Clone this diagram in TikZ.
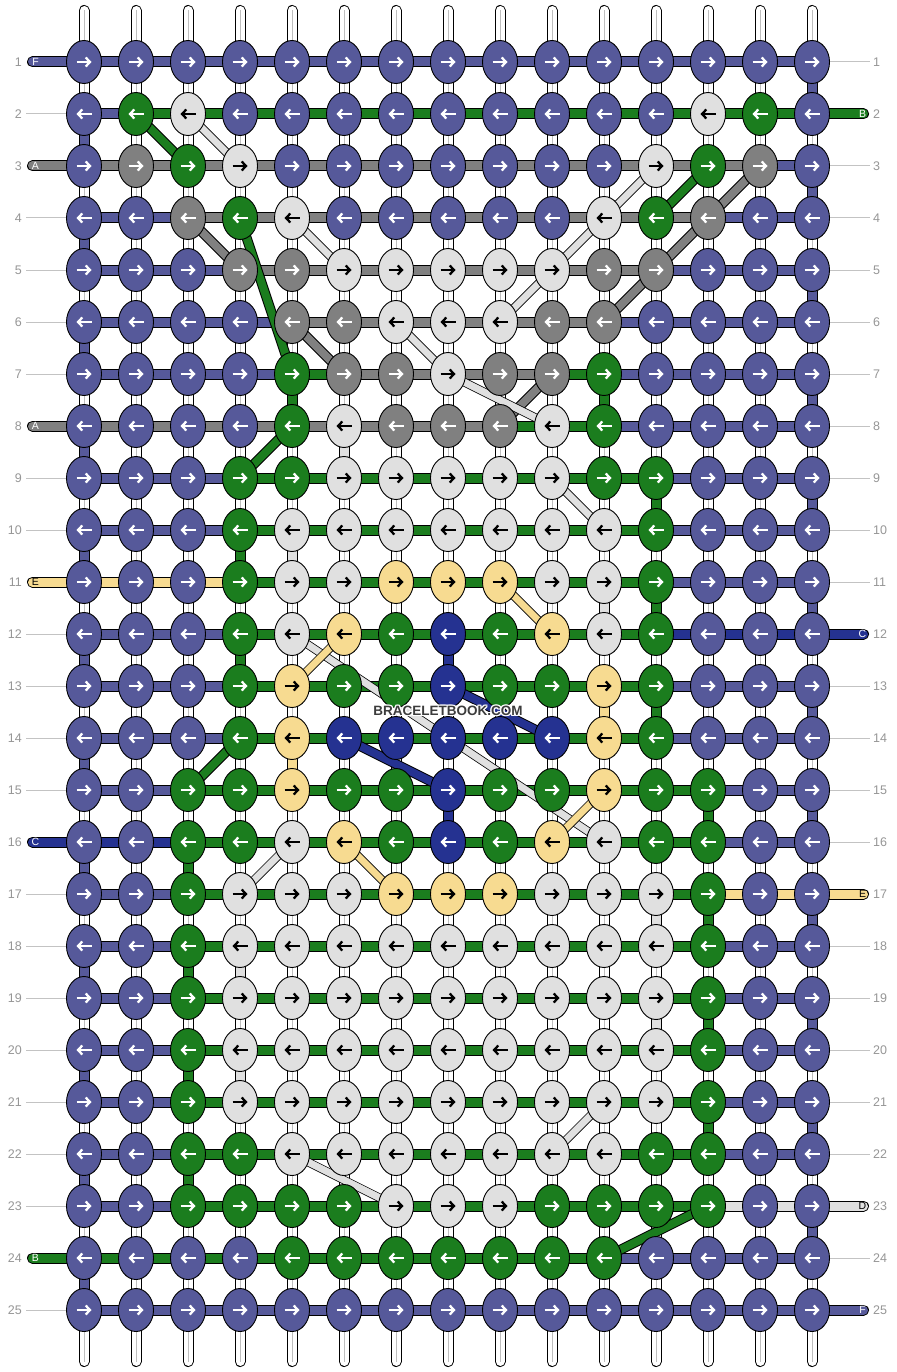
\documentclass[tikz,border=0pt]{standalone}
\usepackage{fontspec}
\setmainfont{Liberation Sans}
\usetikzlibrary{arrows.meta,shapes.geometric}
\definecolor{cP}{RGB}{86,89,154}
\definecolor{cG}{RGB}{27,125,30}
\definecolor{cL}{RGB}{224,224,224}
\definecolor{cK}{RGB}{128,128,128}
\definecolor{cN}{RGB}{37,50,145}
\definecolor{cY}{RGB}{247,219,145}
\colorlet{aP}{white}
\colorlet{aG}{white}
\colorlet{aK}{white}
\colorlet{aN}{white}
\colorlet{aL}{black}
\colorlet{aY}{black}
\definecolor{numgray}{RGB}{150,150,150}
\definecolor{guidegray}{RGB}{195,195,195}
\definecolor{strgray}{RGB}{190,190,190}
\definecolor{wmgray}{RGB}{60,60,60}
\begin{document}
\begin{tikzpicture}[x=1pt,y=-1pt,
  knot/.style={ellipse, draw=black, line width=0.9pt, minimum width=35pt, minimum height=43pt, inner sep=0pt},
  seg/.style={line width=11pt, draw=black, postaction={draw=#1, line width=9pt}},
  edgebar/.style={line width=11pt, draw=black, line cap=round, postaction={draw=#1, line width=9pt, line cap=round}},
  dg/.style={line width=10pt, draw=black, postaction={draw=#1, line width=8pt}},
  ldg/.style={line width=8.5pt, draw=black, postaction={draw=#1, line width=7pt}},
  num/.style={text=numgray, font=\fontsize{12.5}{14}\selectfont, inner sep=0pt},
  lett/.style={font=\fontsize{10.5}{12}\selectfont, inner sep=0pt},
  guide/.style={draw=guidegray, line width=1pt},
  arr/.style={line width=2.3pt, -{Straight Barb[length=4.2pt,width=9pt]}},
  wmark/.style={font=\bfseries\fontsize{13.5}{15}\selectfont, inner sep=0pt},
]
\fill[white] (0,0) rectangle (896,1372);
\useasboundingbox (0,0) rectangle (896,1372);
% knot positions
\foreach \r in {1,...,25}{
  \foreach \c in {1,...,15}{
    \coordinate (k-\r-\c) at ({32+52*\c},{10+52*\r});
  }
}
% vertical strings
\foreach \c in {1,...,15}{
  \coordinate (st-\c) at ({32+52*\c},10.5);
  \coordinate (sb-\c) at ({32+52*\c},1361.5);
  \draw[line width=11pt, black, line cap=round] (st-\c) -- (sb-\c);
  \draw[line width=9pt, white, line cap=round] (st-\c) -- (sb-\c);
  \draw[line width=0.8pt, strgray] (st-\c) -- (sb-\c);
}
% guide lines
\foreach \r in {2,4,5,6,7,9,10,12,13,14,15,17,18,19,20,21,22,23,25}{
  \coordinate (gl-\r) at (26,{10+52*\r});
  \draw[guide] (gl-\r) -- (k-\r-1);
}
\foreach \r in {1,3,4,5,6,7,8,9,10,11,13,14,15,16,18,19,20,21,22,24}{
  \coordinate (gr-\r) at (870,{10+52*\r});
  \draw[guide] (k-\r-15) -- (gr-\r);
}
% entering / leaving threads
\foreach \r/\col/\lbl in {1/P/F,3/K/A,8/K/A,11/Y/E,16/N/C,24/G/B}{
  \coordinate (in-\r) at (32.5,{10+52*\r});
  \draw[edgebar=c\col] (in-\r) -- (k-\r-1);
}
\foreach \r/\col/\lbl in {2/G/B,12/N/C,17/Y/E,23/L/D,25/P/F}{
  \coordinate (out-\r) at (863.5,{10+52*\r});
  \draw[edgebar=c\col] (k-\r-15) -- (out-\r);
}
% horizontal segments
\foreach \r/\segs in {
 1/{P,P,P,P,P,P,P,P,P,P,P,P,P,P},
 2/{P,G,G,G,G,G,G,G,G,G,G,G,G,G},
 3/{K,K,K,K,K,K,K,K,K,K,K,K,K,P},
 4/{P,P,K,K,K,K,K,K,K,K,K,K,P,P},
 5/{P,P,P,K,K,K,K,K,K,K,K,P,P,P},
 6/{P,P,P,P,K,K,K,K,K,K,P,P,P,P},
 7/{P,P,P,P,G,K,K,K,K,G,P,P,P,P},
 8/{K,K,K,K,K,K,K,K,G,G,P,P,P,P},
 9/{P,P,P,G,G,G,G,G,G,G,G,P,P,P},
 10/{P,P,P,G,G,G,G,G,G,G,G,P,P,P},
 11/{Y,Y,Y,G,G,G,G,G,G,G,G,P,P,P},
 12/{P,P,P,G,G,G,G,G,G,G,G,N,N,N},
 13/{P,P,P,G,G,G,G,G,G,G,G,P,P,P},
 14/{P,P,P,G,G,G,G,G,G,G,G,P,P,P},
 15/{P,P,G,G,G,G,G,G,G,G,G,G,P,P},
 16/{N,N,G,G,G,G,G,G,G,G,G,G,P,P},
 17/{P,P,G,G,G,G,G,G,G,G,G,G,Y,Y},
 18/{P,P,G,G,G,G,G,G,G,G,G,G,P,P},
 19/{P,P,G,G,G,G,G,G,G,G,G,G,P,P},
 20/{P,P,G,G,G,G,G,G,G,G,G,G,P,P},
 21/{P,P,G,G,G,G,G,G,G,G,G,G,P,P},
 22/{P,P,G,G,G,G,G,G,G,G,G,G,P,P},
 23/{P,P,G,G,G,G,G,G,G,G,G,G,L,L},
 24/{G,G,G,G,G,G,G,G,G,G,P,P,P,P},
 25/{P,P,P,P,P,P,P,P,P,P,P,P,P,P}}{
  \foreach \s [count=\c] in \segs {
    \pgfmathtruncatemacro\d{\c+1}
    \draw[seg=c\s] (k-\r-\c) -- (k-\r-\d);
  }
}
% weft turns at the edges
\foreach \r in {1,...,24}{
  \pgfmathtruncatemacro\rr{\r+1}
  \pgfmathtruncatemacro\ec{isodd(\r) ? 15 : 1}
  \draw[seg=cP] (k-\r-\ec) -- (k-\rr-\ec);
}
% other vertical connections
\foreach \r/\c/\col in {7/5/G,7/11/G,9/12/G,10/4/G,11/12/G,12/4/G,13/12/G,
  15/13/G,16/3/G,17/13/G,18/3/G,19/13/G,20/3/G,21/13/G,22/3/G,
  8/6/L,10/5/L,11/11/L,17/12/L,18/4/L,19/12/L,20/4/L,
  12/8/N,15/8/N,14/5/Y,13/11/Y}{
  \pgfmathtruncatemacro\rr{\r+1}
  \draw[seg=c\col] (k-\r-\c) -- (k-\rr-\c);
}
% diagonal moves
\foreach \ra/\ca/\rb/\cb/\col in {2/2/3/3/G,3/13/4/12/G,4/4/7/5/G,8/5/9/4/G,14/4/15/3/G,23/13/24/11/G,
  3/14/4/13/K,4/13/5/12/K,5/12/6/11/K,7/10/8/9/K,4/3/5/4/K,6/5/7/6/K,
  13/8/14/10/N,14/6/15/8/N}{
  \draw[dg=c\col] (k-\ra-\ca) -- (k-\rb-\cb);
}
\foreach \ra/\ca/\rb/\cb/\col in {2/3/3/4/L,3/12/4/11/L,4/11/5/10/L,4/5/5/6/L,5/10/6/9/L,6/7/7/8/L,
  7/8/8/10/L,9/10/10/11/L,12/5/14/8/L,14/8/16/11/L,16/5/17/4/L,21/11/22/10/L,22/5/23/7/L,
  11/9/12/10/Y,12/6/13/5/Y,15/11/16/10/Y,16/6/17/7/Y}{
  \draw[ldg=c\col] (k-\ra-\ca) -- (k-\rb-\cb);
}
% knots
\foreach \r/\cols in {
 1/{P,P,P,P,P,P,P,P,P,P,P,P,P,P,P},
 2/{P,G,L,P,P,P,P,P,P,P,P,P,L,G,P},
 3/{P,K,G,L,P,P,P,P,P,P,P,L,G,K,P},
 4/{P,P,K,G,L,P,P,P,P,P,L,G,K,P,P},
 5/{P,P,P,K,K,L,L,L,L,L,K,K,P,P,P},
 6/{P,P,P,P,K,K,L,L,L,K,K,P,P,P,P},
 7/{P,P,P,P,G,K,K,L,K,K,G,P,P,P,P},
 8/{P,P,P,P,G,L,K,K,K,L,G,P,P,P,P},
 9/{P,P,P,G,G,L,L,L,L,L,G,G,P,P,P},
 10/{P,P,P,G,L,L,L,L,L,L,L,G,P,P,P},
 11/{P,P,P,G,L,L,Y,Y,Y,L,L,G,P,P,P},
 12/{P,P,P,G,L,Y,G,N,G,Y,L,G,P,P,P},
 13/{P,P,P,G,Y,G,G,N,G,G,Y,G,P,P,P},
 14/{P,P,P,G,Y,N,N,N,N,N,Y,G,P,P,P},
 15/{P,P,G,G,Y,G,G,N,G,G,Y,G,G,P,P},
 16/{P,P,G,G,L,Y,G,N,G,Y,L,G,G,P,P},
 17/{P,P,G,L,L,L,Y,Y,Y,L,L,L,G,P,P},
 18/{P,P,G,L,L,L,L,L,L,L,L,L,G,P,P},
 19/{P,P,G,L,L,L,L,L,L,L,L,L,G,P,P},
 20/{P,P,G,L,L,L,L,L,L,L,L,L,G,P,P},
 21/{P,P,G,L,L,L,L,L,L,L,L,L,G,P,P},
 22/{P,P,G,G,L,L,L,L,L,L,L,G,G,P,P},
 23/{P,P,G,G,G,G,L,L,L,G,G,G,G,P,P},
 24/{P,P,P,P,G,G,G,G,G,G,G,P,P,P,P},
 25/{P,P,P,P,P,P,P,P,P,P,P,P,P,P,P}}{
  \pgfmathtruncatemacro\dir{isodd(\r) ? 1 : -1}
  \foreach \col [count=\c] in \cols {
    \node[knot, fill=c\col] (n-\r-\c) at (k-\r-\c) {};
    \draw[arr, draw=a\col, shift={(n-\r-\c.center)}, xscale=\dir] (-7.5,0) -- (7.5,0);
  }
}
% thread letters
\foreach \r/\col/\lbl in {1/P/F,3/K/A,8/K/A,11/Y/E,16/N/C,24/G/B}{
  \node[lett, text=a\col] (lab-\r) at (35.5,{10+52*\r}) {\lbl};
}
\foreach \r/\col/\lbl in {2/G/B,12/N/C,17/Y/E,23/L/D,25/P/F}{
  \node[lett, text=a\col] (rab-\r) at (862.5,{10+52*\r}) {\lbl};
}
% row numbers
\foreach \r in {1,...,25}{
  \node[num, anchor=east] (ln-\r) at (22,{10+52*\r}) {\r};
  \node[num, anchor=west] (rn-\r) at (873,{10+52*\r}) {\r};
}
% watermark with a light halo
\foreach \dx/\dy [count=\i] in {-1.3/0,1.3/0,0/-1.3,0/1.3,-1/-1,1/1,-1/1,1/-1}{
  \node[wmark, text=white] (wmh-\i) at ({448+\dx},{711+\dy}) {BRACELETBOOK.COM};
}
\node[wmark, text=wmgray] (wm) at (448,711) {BRACELETBOOK.COM};
\end{tikzpicture}
\end{document}
